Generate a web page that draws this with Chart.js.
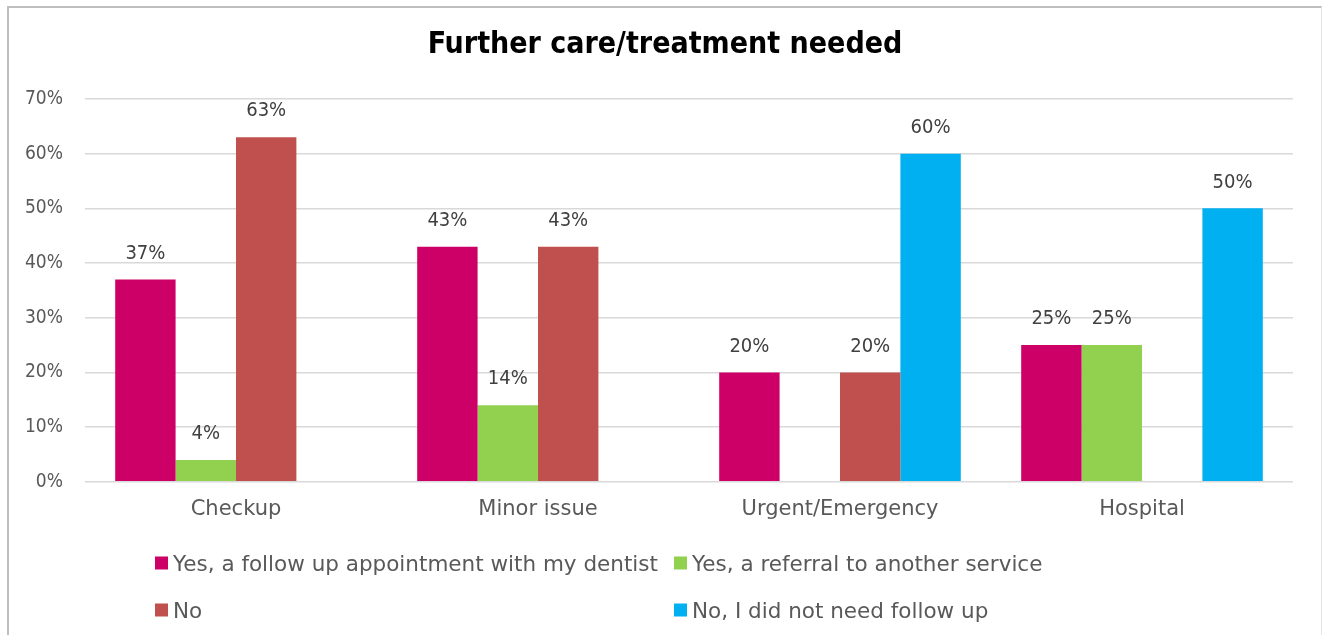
<!DOCTYPE html>
<html>
<head>
<meta charset="utf-8">
<script src="https://cdn.jsdelivr.net/npm/chart.js@4"></script>
<style>
  body { margin: 0; background: #fff; font-family: 'DejaVu Sans', sans-serif; }
  #moldura { position: absolute; left: 7px; top: 6px; width: 1315px; height: 640px; box-sizing: border-box;
             border-top: 2px solid #bfbfbf; border-left: 2px solid #bfbfbf; border-right: 1px solid #e3e3e3; }
  #grafico { position: absolute; left: 0; top: 0; }
  .item { position: absolute; display: flex; align-items: center; font-size: 21.5px; color: #595959;
          white-space: nowrap; transform: translateY(-50%); }
  .item .caixa { width: 13px; height: 13px; margin-right: 5px; }
</style>
</head>
<body>
<div id="moldura"></div>
<canvas id="grafico" width="1322" height="635"></canvas>
<div id="legenda"></div>
<script>
const fonteEstreita = "'DejaVu Sans Condensed', 'DejaVu Sans', sans-serif";
const fonteLarga = "'DejaVu Sans', sans-serif";

const titulo = 'Further care/treatment needed';
const categorias = ['Checkup', 'Minor issue', 'Urgent/Emergency', 'Hospital'];
const nomesSeries = [
  'Yes, a follow up appointment with my dentist',
  'Yes, a referral to another service',
  'No',
  'No, I did not need follow up'
];
const coresSeries = ['#CC0066', '#92D050', '#C0504D', '#00B0F0'];

// percentagens por categoria (null = barra ausente)
const followUp = [37, 43, 20, 25];
const referral = [4, 14, null, 25];
const nao = [63, 43, 20, null];
const naoPrecisou = [null, null, 60, 50];

const ticksY = [0, 10, 20, 30, 40, 50, 60, 70];

// título centrado na moldura inteira (o título do Chart.js centra na área sem o padding)
const tituloCentrado = {
  id: 'tituloCentrado',
  afterDraw(chart) {
    const ctx = chart.ctx;
    ctx.save();
    ctx.font = 'bold 30px ' + fonteEstreita;
    ctx.fillStyle = '#000';
    ctx.textAlign = 'center';
    ctx.textBaseline = 'middle';
    ctx.fillText(titulo, 665, 45);
    ctx.restore();
  }
};

// rótulos de valor acima das barras
const rotulos = {
  id: 'rotulos',
  afterDatasetsDraw(chart) {
    const ctx = chart.ctx;
    ctx.save();
    ctx.font = '20px ' + fonteEstreita;
    ctx.fillStyle = '#404040';
    ctx.textAlign = 'center';
    ctx.textBaseline = 'middle';
    chart.data.datasets.forEach((ds, i) => {
      chart.getDatasetMeta(i).data.forEach((barra, j) => {
        const v = ds.data[j];
        if (v === null) return;
        ctx.fillText(v + '%', barra.x, barra.y - 26);
      });
    });
    ctx.restore();
  }
};

const dados = [followUp, referral, nao, naoPrecisou];

const grafico = new Chart(document.getElementById('grafico'), {
  type: 'bar',
  data: {
    labels: categorias,
    datasets: dados.map((d, i) => ({
      label: nomesSeries[i],
      data: d,
      backgroundColor: coresSeries[i],
      barPercentage: 1,
      categoryPercentage: 0.8
    }))
  },
  options: {
    responsive: false,
    animation: false,
    layout: { padding: { left: 3, right: 29, top: 99, bottom: 98 } },
    plugins: {
      legend: { display: false },
      tooltip: { enabled: false },
      title: { display: false }
    },
    scales: {
      x: {
        grid: { display: false, drawTicks: false },
        border: { display: false },
        ticks: { color: '#595959', font: { family: fonteLarga, size: 21 }, padding: 15 }
      },
      y: {
        min: 0,
        max: 70,
        afterBuildTicks: axis => { axis.ticks = ticksY.map(v => ({ value: v })); },
        ticks: { color: '#595959', font: { family: fonteEstreita, size: 19 }, padding: 22, callback: v => v + '%' },
        grid: { color: '#d9d9d9', lineWidth: 1.5, drawTicks: false },
        border: { display: false }
      }
    }
  },
  plugins: [rotulos, tituloCentrado]
});

// legenda em duas colunas
const colunas = [155, 674];
const linhas = [563, 610];
const legenda = document.getElementById('legenda');
grafico.data.datasets.forEach((ds, i) => {
  const item = document.createElement('div');
  item.className = 'item';
  item.style.left = colunas[i % 2] + 'px';
  item.style.top = linhas[Math.floor(i / 2)] + 'px';
  item.innerHTML = `<span class="caixa" style="background:${ds.backgroundColor}"></span><span>${ds.label}</span>`;
  legenda.appendChild(item);
});
</script>
</body>
</html>
